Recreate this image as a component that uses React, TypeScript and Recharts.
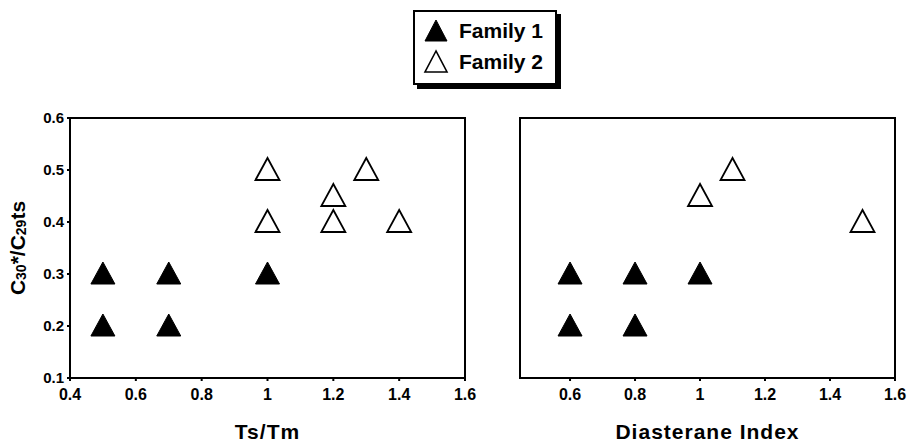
import { ScatterChart, Scatter, XAxis, YAxis, ReferenceArea } from "recharts";

// Ts/Tm panel
const tsFamily1 = [
  { x: 0.5, y: 0.3 },
  { x: 0.7, y: 0.3 },
  { x: 1.0, y: 0.3 },
  { x: 0.5, y: 0.2 },
  { x: 0.7, y: 0.2 },
];
const tsFamily2 = [
  { x: 1.0, y: 0.5 },
  { x: 1.0, y: 0.4 },
  { x: 1.2, y: 0.45 },
  { x: 1.2, y: 0.4 },
  { x: 1.3, y: 0.5 },
  { x: 1.4, y: 0.4 },
];

// Diasterane index panel
const diaFamily1 = [
  { x: 0.6, y: 0.3 },
  { x: 0.8, y: 0.3 },
  { x: 1.0, y: 0.3 },
  { x: 0.6, y: 0.2 },
  { x: 0.8, y: 0.2 },
];
const diaFamily2 = [
  { x: 1.0, y: 0.45 },
  { x: 1.1, y: 0.5 },
  { x: 1.5, y: 0.4 },
];

const yTicks = [0.1, 0.2, 0.3, 0.4, 0.5, 0.6];
const tsTicks = [0.4, 0.6, 0.8, 1, 1.2, 1.4, 1.6];
const diaTicks = [0.6, 0.8, 1, 1.2, 1.4, 1.6];

const FONT = "'Liberation Sans', Arial, Helvetica, sans-serif";

const renderXTick = (props: any) => {
  const { x, y, payload } = props;
  return (
    <text x={x} y={y + 17} textAnchor="middle" fontFamily={FONT} fontWeight={700} fontSize={16} fill="#000">
      {payload.value}
    </text>
  );
};

const renderYTick = (props: any) => {
  const { x, y, payload } = props;
  return (
    <text x={x} y={y + 5} textAnchor="end" fontFamily={FONT} fontWeight={700} fontSize={15} fill="#000">
      {payload.value}
    </text>
  );
};

const Tri = (filled: boolean) => (props: any) => {
  const { cx, cy } = props;
  if (cx == null || cy == null) return null;
  const w = 12;
  return (
    <polygon
      points={`${cx},${cy - 12} ${cx - w},${cy + 10} ${cx + w},${cy + 10}`}
      fill={filled ? "#000" : "#fff"}
      stroke="#000"
      strokeWidth={filled ? 1 : 1.8}
    />
  );
};

function YLabel(props: any) {
  const vb = props.viewBox;
  const x = vb.x + 17;
  const y = vb.y + vb.height / 2;
  return (
    <text
      x={x}
      y={y}
      transform={`rotate(-90 ${x} ${y})`}
      textAnchor="middle"
      dominantBaseline="central"
      fontFamily={FONT}
      fontWeight={700}
      fontSize={21}
      fill="#000"
    >
      C<tspan fontSize={14} dy={4}>30</tspan>
      <tspan dy={-4}>*/C</tspan>
      <tspan fontSize={14} dy={4}>29</tspan>
      <tspan dy={-4}>ts</tspan>
    </text>
  );
}

const axisLabelStyle = { fontSize: 21, fontWeight: 700, fill: "#000", fontFamily: FONT, letterSpacing: 1 };

function Legend() {
  const row = (filled: boolean, label: string) => (
    <div style={{ display: "flex", alignItems: "center", height: 31 }}>
      <svg width={28} height={26} style={{ marginLeft: 8 }}>
        <polygon
          points="13,2 2,23 24,23"
          fill={filled ? "#000" : "#fff"}
          stroke="#000"
          strokeWidth={filled ? 1 : 1.6}
        />
      </svg>
      <span style={{ marginLeft: 8, fontSize: 21, fontWeight: 700 }}>{label}</span>
    </div>
  );
  return (
    <div
      style={{
        position: "absolute",
        left: 413,
        top: 10,
        width: 140,
        height: 68,
        border: "2px solid #000",
        boxShadow: "4px 4px 0 #000",
        background: "#fff",
        fontFamily: FONT,
        paddingTop: 3,
        boxSizing: "content-box",
      }}
    >
      {row(true, "Family 1")}
      {row(false, "Family 2")}
    </div>
  );
}

export default function App() {
  return (
    <div style={{ position: "absolute", left: 0, top: 0, width: 907, height: 443, background: "#fff" }}>
      <Legend />
      <div style={{ position: "absolute", left: 0, top: 0 }}>
        <ScatterChart width={480} height={443} margin={{ top: 118, right: 15, bottom: 2, left: 0 }}>
          <XAxis
            type="number"
            dataKey="x"
            domain={[0.4, 1.6]}
            ticks={tsTicks}
            tick={renderXTick}
            tickSize={3}
            tickMargin={2}
            stroke="#000"
            strokeWidth={2}
            height={63}
            allowDataOverflow
            label={{ value: "Ts/Tm", position: "insideBottom", offset: 2, style: axisLabelStyle }}
          />
          <YAxis
            type="number"
            dataKey="y"
            domain={[0.1, 0.6]}
            ticks={yTicks}
            tick={renderYTick}
            tickSize={3}
            tickMargin={3}
            stroke="#000"
            strokeWidth={2}
            width={70}
            label={{ content: YLabel }}
          />
          <ReferenceArea x1={0.4} x2={1.6} y1={0.1} y2={0.6} fill="none" stroke="#000" strokeWidth={2} />
          <Scatter data={tsFamily1} shape={Tri(true)} isAnimationActive={false} />
          <Scatter data={tsFamily2} shape={Tri(false)} isAnimationActive={false} />
        </ScatterChart>
      </div>
      <div style={{ position: "absolute", left: 480, top: 0 }}>
        <ScatterChart width={427} height={443} margin={{ top: 118, right: 12, bottom: 2, left: 40 }}>
          <XAxis
            type="number"
            dataKey="x"
            domain={[0.446, 1.6]}
            ticks={diaTicks}
            tick={renderXTick}
            tickSize={3}
            tickMargin={2}
            stroke="#000"
            strokeWidth={2}
            height={63}
            allowDataOverflow
            label={{ value: "Diasterane Index", position: "insideBottom", offset: 2, style: axisLabelStyle }}
          />
          <YAxis type="number" dataKey="y" domain={[0.1, 0.6]} ticks={yTicks} hide />
          <ReferenceArea x1={0.446} x2={1.6} y1={0.1} y2={0.6} fill="none" stroke="#000" strokeWidth={2} />
          <Scatter data={diaFamily1} shape={Tri(true)} isAnimationActive={false} />
          <Scatter data={diaFamily2} shape={Tri(false)} isAnimationActive={false} />
        </ScatterChart>
      </div>
    </div>
  );
}
